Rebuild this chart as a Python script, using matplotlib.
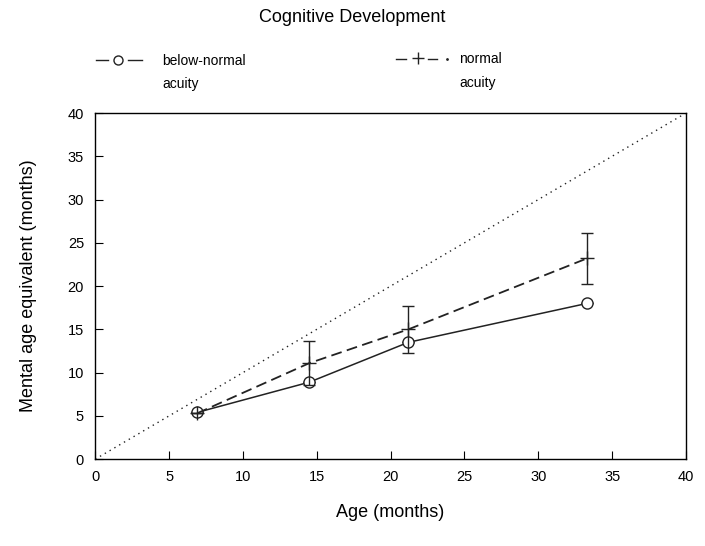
import matplotlib
matplotlib.use("Agg")
import matplotlib.pyplot as plt
from matplotlib.lines import Line2D

plt.rcParams['font.family'] = ['Liberation Sans', 'DejaVu Sans']

age_below = [6.9, 14.5, 21.2, 33.3]
mental_below = [5.4, 8.9, 13.5, 18.0]
err_below = [0.0, 0.0, 0.0, 0.0]

age_normal = [6.9, 14.5, 21.2, 33.3]
mental_normal = [5.3, 11.1, 15.0, 23.2]
err_normal = [0.0, 2.5, 2.7, 2.9]

ticks = [0, 5, 10, 15, 20, 25, 30, 35, 40]

W, H = 705, 546
fig = plt.figure(figsize=(W / 100, H / 100), dpi=100)
ax = fig.add_axes([0.135, 0.159, 0.838, 0.634])

ax.plot([0, 40], [0, 40], linestyle=(0, (1, 3)), color='#222', lw=1.0)
ax.errorbar(age_below, mental_below, yerr=err_below, color='#222', lw=1.1,
            marker='o', markersize=8, markerfacecolor='white', markeredgecolor='#222',
            capsize=4, linestyle='-', zorder=3)
ax.errorbar(age_normal, mental_normal, yerr=err_normal, color='#222', lw=1.3,
            marker='+', markersize=10, capsize=4, linestyle=(0, (6, 3)), elinewidth=1.0, zorder=4)

ax.set_xlim(0, 40)
ax.set_ylim(0, 40)
ax.set_xticks(ticks)
ax.set_yticks(ticks)
ax.tick_params(direction='in', length=6, labelsize=10.5, pad=8, top=False, right=False)
for s in ax.spines.values():
    s.set_linewidth(1.0)

ax.set_xlabel('Age (months)', fontsize=13, labelpad=14)
ax.set_ylabel('Mental age equivalent (months)', fontsize=13, labelpad=22)

fig.text(0.5, 1 - 18 / H, 'Cognitive Development', ha='center', va='center', fontsize=13)


def fx(px):
    return px / W


def fy(py):
    return 1 - py / H


def seg(x0, x1, y, **kw):
    fig.lines.append(Line2D([fx(x0), fx(x1)], [fy(y), fy(y)], transform=fig.transFigure,
                            color='#222', lw=1.0, **kw))


def mark(x, y, m, ms, **kw):
    fig.lines.append(Line2D([fx(x)], [fy(y)], transform=fig.transFigure, color='#222',
                            marker=m, markersize=ms, linestyle='none', **kw))


# legend: below-normal
seg(96, 108, 60)
mark(118, 60, 'o', 6.5, markerfacecolor='white', markeredgewidth=1.0)
seg(128, 142, 60)
fig.text(fx(162), fy(61), 'below-normal', ha='left', va='center', fontsize=10)
fig.text(fx(162), fy(84), 'acuity', ha='left', va='center', fontsize=10)

# legend: normal
seg(396, 406, 59)
mark(418, 58, '+', 8, markeredgewidth=1.0)
seg(428, 437, 59)
mark(447, 59, '.', 2)
fig.text(fx(459), fy(59), 'normal', ha='left', va='center', fontsize=10)
fig.text(fx(459), fy(83), 'acuity', ha='left', va='center', fontsize=10)

fig.savefig('out.png', dpi=100)
